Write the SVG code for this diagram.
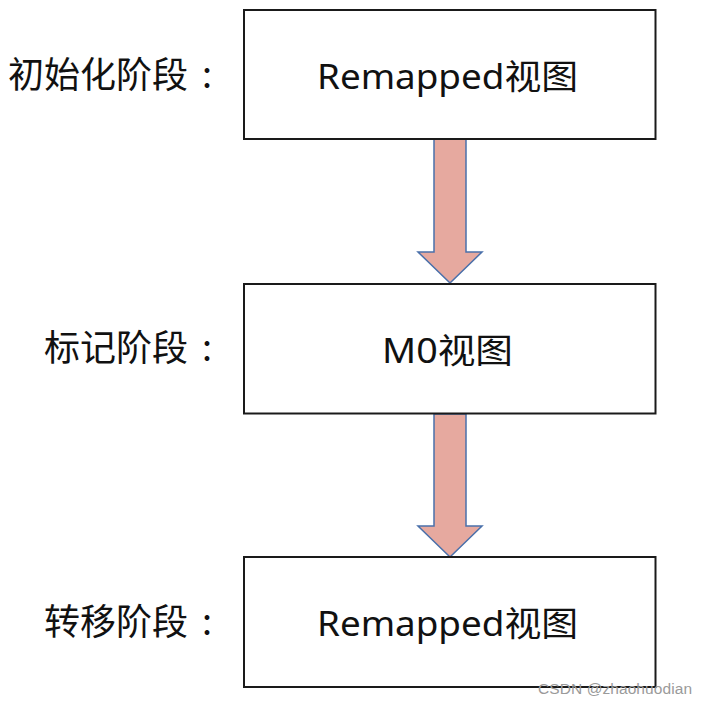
<svg xmlns="http://www.w3.org/2000/svg" width="707" height="705" viewBox="0 0 707 705">
<style>
.box{fill:#fff;stroke:#1a1a1a;stroke-width:2}
.arrow{fill:#E6A99F;stroke:#4A70AA;stroke-width:1.5;stroke-linejoin:miter}
.t{font-family:"Noto Sans CJK SC","Noto Sans",sans-serif;font-size:36px;fill:#111}
.bt{font-family:"Noto Sans","Noto Sans CJK SC",sans-serif;font-size:34px;fill:#111;text-anchor:middle}
.lbl{text-anchor:end}
.colon{text-anchor:middle}
.wm{font-family:"Liberation Sans",Arial,sans-serif;font-size:15.5px;fill:#9a9a9a}
</style>
<rect width="707" height="705" fill="#fff"/>
<g id="connectors">
<polygon class="arrow" points="434,139 466,139 466,252 482,252 450,283 418,252 434,252"/>
<polygon class="arrow" points="434,414 466,414 466,526 482,526 450,557 418,526 434,526"/>
</g>
<g id="node-init">
<rect class="box" x="244" y="10" width="411.5" height="129"/>
<text class="bt" x="447.5" y="89" textLength="261" lengthAdjust="spacingAndGlyphs">Remapped视图</text>
</g>
<g id="node-mark">
<rect class="box" x="244" y="284" width="411.5" height="129.5"/>
<text class="bt" x="447.5" y="363" textLength="131" lengthAdjust="spacingAndGlyphs">M0视图</text>
</g>
<g id="node-transfer">
<rect class="box" x="244" y="557" width="411.5" height="130"/>
<text class="bt" x="447.5" y="636" textLength="261" lengthAdjust="spacingAndGlyphs">Remapped视图</text>
</g>
<g id="labels">
<text class="t lbl" x="188" y="88">初始化阶段</text>
<text class="t colon" x="207" y="88">:</text>
<text class="t lbl" x="188" y="361">标记阶段</text>
<text class="t colon" x="207" y="361">:</text>
<text class="t lbl" x="188" y="635">转移阶段</text>
<text class="t colon" x="207" y="635">:</text>
</g>
<text class="wm" x="538" y="694" textLength="154">CSDN @zhaohuodian</text>
</svg>
